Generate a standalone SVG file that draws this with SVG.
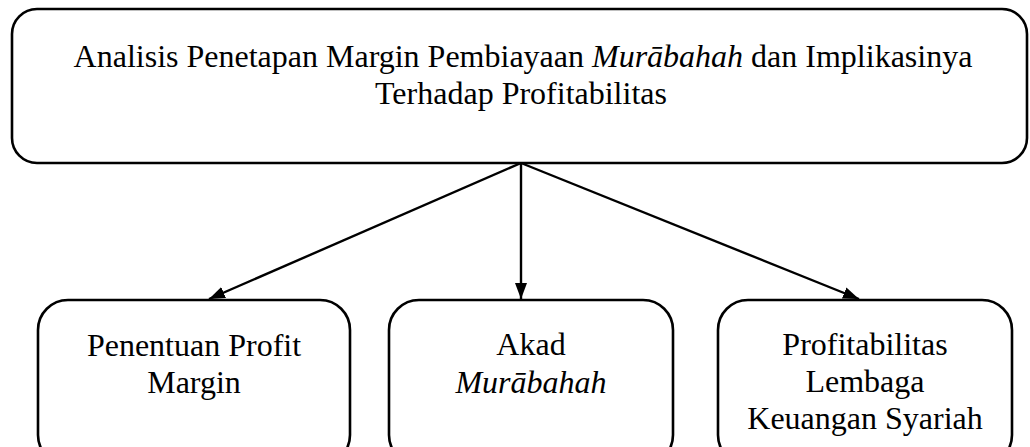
<svg xmlns="http://www.w3.org/2000/svg" width="1030" height="447" viewBox="0 0 1030 447">
  <style>
    .box { fill: #ffffff; stroke: #000000; stroke-width: 2.6; }
    .lbl { font-family: "Liberation Serif", "Times New Roman", serif; font-size: 32px; fill: #000000; text-anchor: middle; }
    .it { font-style: italic; }
    .conn { stroke: #000000; stroke-width: 2.4; fill: none; marker-end: url(#arrow); }
  </style>
  <defs>
    <marker id="arrow" markerUnits="userSpaceOnUse" markerWidth="18" markerHeight="14" refX="16" refY="6" orient="auto">
      <path d="M0,0 L16,6 L0,12 z" fill="#000000"/>
    </marker>
  </defs>
  <rect width="1030" height="447" fill="#ffffff"/>

  <g id="node-main">
    <rect class="box" x="12" y="9" width="1015" height="154" rx="25" ry="25"/>
    <text class="lbl" x="523" y="67">Analisis Penetapan Margin Pembiayaan <tspan class="it">Murābahah</tspan> dan Implikasinya</text>
    <text class="lbl" x="521" y="104">Terhadap Profitabilitas</text>
  </g>

  <g id="node-profit-margin">
    <rect class="box" x="38" y="300" width="312" height="165" rx="30" ry="30"/>
    <text class="lbl" x="194" y="356">Penentuan Profit</text>
    <text class="lbl" x="194" y="393">Margin</text>
  </g>

  <g id="node-akad">
    <rect class="box" x="389" y="300" width="284" height="165" rx="30" ry="30"/>
    <text class="lbl" x="531" y="355">Akad</text>
    <text class="lbl it" x="531" y="393">Murābahah</text>
  </g>

  <g id="node-profitabilitas">
    <rect class="box" x="718" y="300" width="294" height="165" rx="30" ry="30"/>
    <text class="lbl" x="865" y="355">Profitabilitas</text>
    <text class="lbl" x="865" y="392">Lembaga</text>
    <text class="lbl" x="865" y="429">Keuangan Syariah</text>
  </g>

  <g id="connectors">
    <line class="conn" x1="521" y1="163" x2="209" y2="299"/>
    <line class="conn" x1="521" y1="163" x2="521" y2="299"/>
    <line class="conn" x1="521" y1="163" x2="859" y2="299"/>
  </g>
</svg>
